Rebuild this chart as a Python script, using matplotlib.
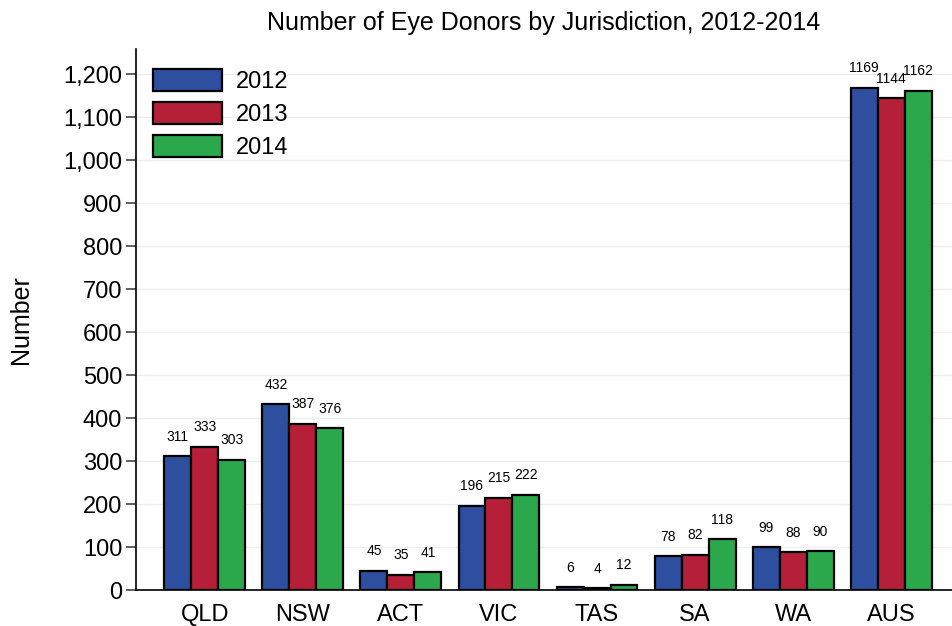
import matplotlib.pyplot as plt
import numpy as np

plt.rcParams['font.family'] = ['Liberation Sans', 'DejaVu Sans']

# data
regions = ['QLD', 'NSW', 'ACT', 'VIC', 'TAS', 'SA', 'WA', 'AUS']
years = ['2012', '2013', '2014']
d2012 = [311, 432, 45, 196, 6, 78, 99, 1169]
d2013 = [333, 387, 35, 215, 4, 82, 88, 1144]
d2014 = [303, 376, 41, 222, 12, 118, 90, 1162]
colors = ['#2E4FA0', '#B51F38', '#2CA84C']

fig = plt.figure(figsize=(9.52, 6.26), dpi=100)
ax = fig.add_axes([0.143, 0.0575, 0.857, 0.865])

x = np.arange(len(regions))
w = 0.275
for i, (vals, c, yr) in enumerate(zip([d2012, d2013, d2014], colors, years)):
    bars = ax.bar(x + (i - 1) * w, vals, w, color=c, edgecolor='black',
                  linewidth=1.6, label=yr, zorder=3)
    for b, v in zip(bars, vals):
        ax.annotate(str(v), (b.get_x() + b.get_width() / 2, v),
                    xytext=(0, 9), textcoords='offset points',
                    ha='center', va='bottom', fontsize=10)

ax.set_xlim(-0.7, 7.62)
ax.set_ylim(0, 1260)
ax.set_yticks(range(0, 1201, 100))
ax.set_yticklabels([f'{t:,}' for t in range(0, 1201, 100)])
ax.set_xticks(x)
ax.set_xticklabels(regions)
ax.tick_params(axis='y', labelsize=17, length=7, width=1.2, color='#444444', pad=3)
ax.tick_params(axis='x', labelsize=17, length=0, pad=10)
ax.yaxis.grid(True, color='#E8F0F1', linewidth=1, zorder=0)
for s in ['top', 'right']:
    ax.spines[s].set_visible(False)
ax.spines['left'].set_linewidth(1.2)
ax.spines['bottom'].set_linewidth(1.2)

ax.set_ylabel('Number', fontsize=18, labelpad=22)
ax.set_title('Number of Eye Donors by Jurisdiction, 2012-2014', fontsize=18, pad=13)

ax.legend(loc='upper left', bbox_to_anchor=(-0.008, 1.005), frameon=False,
          fontsize=17, handlelength=2.9, handleheight=1.05, labelspacing=0.38,
          handletextpad=0.6, borderpad=0.5)

fig.savefig('out.png', dpi=100)
